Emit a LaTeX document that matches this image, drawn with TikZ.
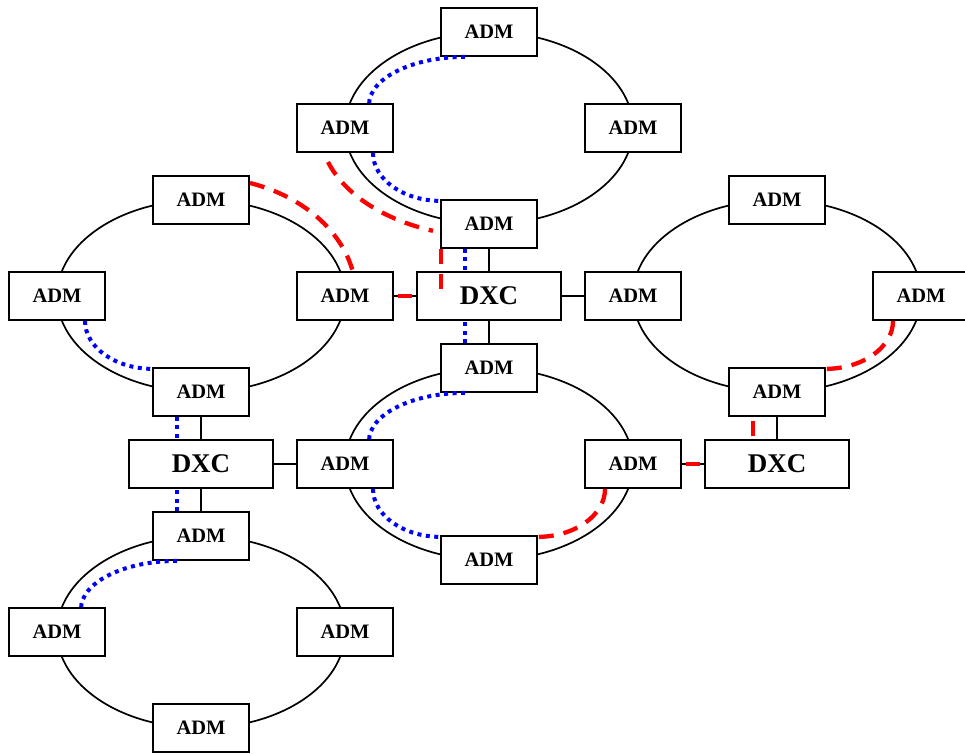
\documentclass[tikz,border=0pt]{standalone}
\usepackage{fontspec}
\setmainfont{Liberation Serif}
\usetikzlibrary{calc}
\begin{document}
\begin{tikzpicture}[x=1pt,y=1pt,
  adm/.style={draw, line width=1.8pt, fill=white, minimum width=96pt, minimum height=48pt,
    inner sep=0pt, font=\fontsize{20.5}{24}\selectfont\bfseries},
  dxc/.style={adm, minimum width=144pt, font=\fontsize{27}{32}\selectfont\bfseries},
  ring/.style={line width=1.7pt},
  link/.style={line width=1.7pt},
  bluedot/.style={blue, line width=4pt, dash pattern=on 4pt off 4.5pt},
  reddash/.style={red, line width=4.3pt, dash pattern=on 15pt off 10pt},
  redseg/.style={red, line width=4.3pt}]
\useasboundingbox (0,0) rectangle (965,-754);

% ring centres
\coordinate (c1) at (489,-128);
\coordinate (c2) at (201,-296);
\coordinate (c3) at (777,-296);
\coordinate (c4) at (489,-464);
\coordinate (c5) at (201,-632);

% the five rings
\foreach \c in {c1,c2,c3,c4,c5}
  \draw[ring] (\c) ellipse [x radius=144, y radius=96];

% ring 1
\node[adm] (r1t) at (489,-32)  {ADM};
\node[adm] (r1l) at (345,-128) {ADM};
\node[adm] (r1r) at (633,-128) {ADM};
\node[adm] (r1b) at (489,-224) {ADM};
% ring 2
\node[adm] (r2t) at (201,-200) {ADM};
\node[adm] (r2l) at (57,-296)  {ADM};
\node[adm] (r2r) at (345,-296) {ADM};
\node[adm] (r2b) at (201,-392) {ADM};
% ring 3
\node[adm] (r3t) at (777,-200) {ADM};
\node[adm] (r3l) at (633,-296) {ADM};
\node[adm] (r3r) at (921,-296) {ADM};
\node[adm] (r3b) at (777,-392) {ADM};
% ring 4
\node[adm] (r4t) at (489,-368) {ADM};
\node[adm] (r4l) at (345,-464) {ADM};
\node[adm] (r4r) at (633,-464) {ADM};
\node[adm] (r4b) at (489,-560) {ADM};
% ring 5
\node[adm] (r5t) at (201,-536) {ADM};
\node[adm] (r5l) at (57,-632)  {ADM};
\node[adm] (r5r) at (345,-632) {ADM};
\node[adm] (r5b) at (201,-728) {ADM};
% cross-connects
\node[dxc] (x1) at (489,-296) {DXC};
\node[dxc] (x2) at (201,-464) {DXC};
\node[dxc] (x3) at (777,-464) {DXC};

% cross-connect links
\draw[link] (x1.north) -- (r1b.south);
\draw[link] (x1.south) -- (r4t.north);
\draw[link] (x1.west)  -- (r2r.east);
\draw[link] (x1.east)  -- (r3l.west);
\draw[link] (x2.north) -- (r2b.south);
\draw[link] (x2.south) -- (r5t.north);
\draw[link] (x2.east)  -- (r4l.west);
\draw[link] (x3.north) -- (r3b.south);
\draw[link] (x3.west)  -- (r4r.east);

% working path (blue, dotted)
\draw[bluedot] ([xshift=-24pt]r1t.south) arc[start angle=90, end angle=180, x radius=96, y radius=48];
\draw[bluedot] ([xshift=28pt]r1l.south) arc[start angle=180, end angle=270, x radius=68, y radius=48];
\draw[bluedot] ([xshift=-24pt]r1b.south) -- ([xshift=-24pt]r1b.south |- x1.north);
\draw[bluedot] ([xshift=-24pt]r4t.north) -- ([xshift=-24pt]r4t.north |- x1.south);
\draw[bluedot] ([xshift=-24pt]r4t.south) arc[start angle=90, end angle=180, x radius=96, y radius=48];
\draw[bluedot] ([xshift=28pt]r4l.south) arc[start angle=180, end angle=270, x radius=68, y radius=48];
\draw[bluedot] ([xshift=28pt]r2l.south) arc[start angle=180, end angle=270, x radius=68, y radius=48];
\draw[bluedot] ([xshift=-24pt]r2b.south) -- ([xshift=-24pt]r2b.south |- x2.north);
\draw[bluedot] ([xshift=-24pt]r5t.north) -- ([xshift=-24pt]r5t.north |- x2.south);
\draw[bluedot] ([xshift=-24pt]r5t.south) arc[start angle=90, end angle=180, x radius=96, y radius=48];

% protection path (red, dashed)
\draw[reddash] ($(c2)+(49,113)$) arc[start angle=71.6, end angle=11.5, x radius=155, y radius=119];
\draw[redseg] ([xshift=4pt]r2r.east) -- ([xshift=-4pt]x1.west);
\draw[reddash] ($(c1)+(-161,-34)$) arc[start angle=198.2, end angle=250.7, x radius=169.5, y radius=109];
\draw[reddash] ([xshift=-48pt]r1b.south) -- ++(0,-44);
\draw[reddash] ([xshift=-28pt]r3r.south) arc[start angle=0, end angle=-90, x radius=68, y radius=48];
\draw[redseg] ([xshift=-24pt,yshift=-4pt]r3b.south) -- ([xshift=-24pt,yshift=3pt]r3b.south |- x3.north);
\draw[redseg] ([xshift=-4pt]x3.west) -- ([xshift=4pt]r4r.east);
\draw[reddash] ([xshift=-28pt]r4r.south) arc[start angle=0, end angle=-90, x radius=68, y radius=48];
\end{tikzpicture}
\end{document}
